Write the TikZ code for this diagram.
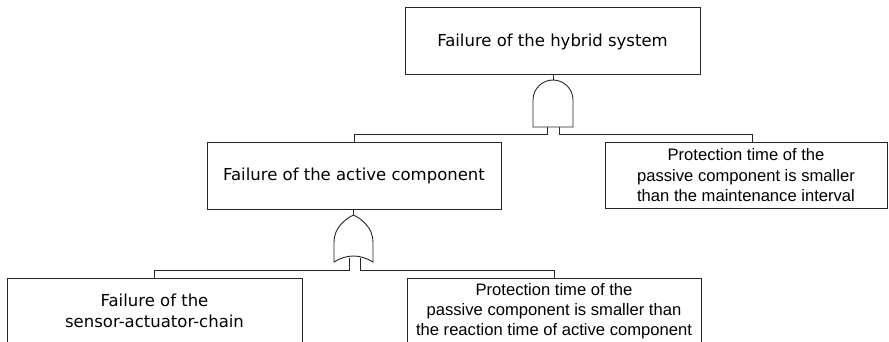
\documentclass[tikz,border=0pt]{standalone}
\usepackage{fontspec}
\newfontfamily\dvfont{DejaVu Sans}
\newfontfamily\libfont{Liberation Sans}
\begin{document}
\begin{tikzpicture}[x=1pt,y=-1pt,
  line width=1pt, draw=black!85,
  box/.style={draw=black!85, inner sep=0pt, align=center},
  dvtext/.style={font={\dvfont\fontsize{16.5}{21}\selectfont}},
  libtext/.style={font={\libfont\fontsize{16.6}{20.5}\selectfont}},
  gate/.style={draw=black!85, line width=0.9pt, fill=white}]
\useasboundingbox (0,0) rectangle (889,342);
% boxes
\node[box, dvtext, minimum width=295pt, minimum height=67pt] (top) at (552.5,41.5) {Failure of the hybrid system};
\node[box, dvtext, minimum width=294pt, minimum height=66pt] (mid) at (354,176) {Failure of the active component};
\node[box, libtext, minimum width=282pt, minimum height=65pt] (right) at (746,175.5) {Protection time of the\\passive component is smaller\\than the maintenance interval};
\node[box, dvtext, minimum width=295pt, minimum height=66pt] (bl) at (154.5,311) {Failure of the\\sensor-actuator-chain};
\node[box, libtext, minimum width=294pt, minimum height=66pt] (br) at (554,311) {\raisebox{2pt}{\begin{tabular}{@{}c@{}}Protection time of the\\[-0.5pt]passive component is smaller than\\[-0.5pt]the reaction time of active component\end{tabular}}};
% AND gate
\coordinate (andtop) at (553,80);
\coordinate (andL) at (547,127);
\coordinate (andR) at (559,127);
\draw[gate] (533,127) -- (533,100) arc[start angle=180, end angle=0, radius=20pt] -- (573,127) -- cycle;
\draw (top.south -| andtop) -- (andtop);
\draw (andL) -- (547,135) -| (mid.north);
\draw (andR) -- (559,135) -| ([xshift=6pt]right.north);
% OR gate
\coordinate (ortop) at (353.5,215);
\coordinate (orL) at (349,258);
\coordinate (orR) at (360,258);
\draw[gate] (ortop) .. controls (345,219) and (334,228) .. (334,242) -- (334,262)
  .. controls (347,254) and (360,254) .. (373,262) -- (373,242)
  .. controls (373,228) and (362,219) .. (ortop) -- cycle;
\draw (mid.south -| ortop) -- (ortop);
\draw (orL) -- (349,270) -| (bl.north);
\draw (orR) -- (360,270) -| (br.north);
\end{tikzpicture}
\end{document}
